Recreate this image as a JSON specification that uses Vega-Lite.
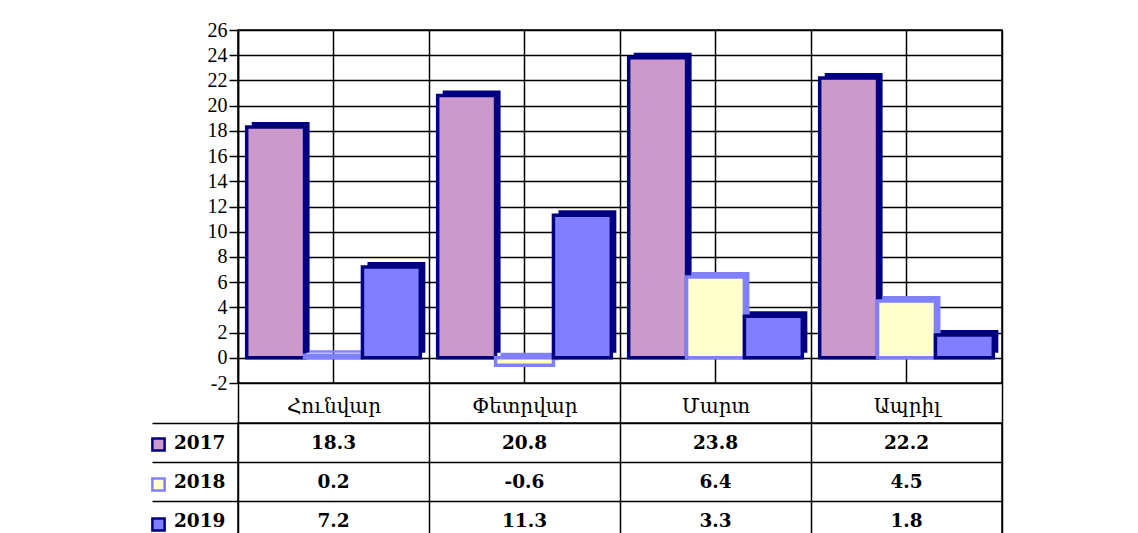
{
  "$schema": "https://vega.github.io/schema/vega-lite/v6.json",
  "background": "white",
  "padding": {"left": 150, "top": 19, "right": 10, "bottom": 0},
  "spacing": 40,
  "bounds": "flush",
  "data": {
    "values": [
      {"month": "Հունվար", "year": "2017", "value": 18.3},
      {"month": "Հունվար", "year": "2018", "value": 0.2},
      {"month": "Հունվար", "year": "2019", "value": 7.2},
      {"month": "Փետրվար", "year": "2017", "value": 20.8},
      {"month": "Փետրվար", "year": "2018", "value": -0.6},
      {"month": "Փետրվար", "year": "2019", "value": 11.3},
      {"month": "Մարտ", "year": "2017", "value": 23.8},
      {"month": "Մարտ", "year": "2018", "value": 6.4},
      {"month": "Մարտ", "year": "2019", "value": 3.3},
      {"month": "Ապրիլ", "year": "2017", "value": 22.2},
      {"month": "Ապրիլ", "year": "2018", "value": 4.5},
      {"month": "Ապրիլ", "year": "2019", "value": 1.8}
    ]
  },
  "resolve": {"scale": {"y": "independent"}},
  "vconcat": [
    {
      "width": 764,
      "height": 353,
      "resolve": {"scale": {"xOffset": "independent"}},
      "layer": [
        {
          "transform": [{"filter": "datum.year == '2017'"}],
          "mark": {"type": "rule", "color": "black", "strokeWidth": 1.5},
          "encoding": {
            "x": {"field": "month", "type": "nominal", "bandPosition": 0.5,
              "sort": ["Հունվար", "Փետրվար", "Մարտ", "Ապրիլ"],
              "scale": {"paddingInner": 0, "paddingOuter": 0},
              "axis": {"title": null, "labels": true, "labelAngle": 0, "labelBaseline": "middle", "labelPadding": -17, "labelFont": "DejaVu Serif", "labelFontSize": 20, "labelColor": "black",
                "ticks": true, "tickBand": "extent", "tickSize": 40, "tickColor": "black", "tickWidth": 1.5,
                "domain": false, "grid": true, "gridColor": "black", "gridWidth": 1.5, "gridOpacity": 1}}
          }
        },
        {
          "mark": {"type": "bar", "yOffset": -5, "strokeWidth": 0},
          "encoding": {
            "x": {"field": "month", "type": "nominal", "sort": ["Հունվար", "Փետրվար", "Մարտ", "Ապրիլ"]},
            "xOffset": {"field": "year", "type": "nominal", "scale": {"paddingInner": 0, "paddingOuter": 0.15, "align": 0.79}},
            "y": {"field": "value", "type": "quantitative",
              "scale": {"domain": [-2, 26], "nice": false},
              "axis": {"title": null, "values": [-2, 0, 2, 4, 6, 8, 10, 12, 14, 16, 18, 20, 22, 24, 26], "tickCount": 30, "labelOverlap": false, "labelExpr": "toString(datum.value)", "grid": true, "gridColor": "black", "gridWidth": 1.5, "gridOpacity": 1, "tickColor": "black", "tickSize": 9, "tickWidth": 1.5, "labelPadding": 2, "labelFont": "Liberation Serif", "labelFontSize": 20, "labelColor": "black", "domainColor": "black", "domainWidth": 1.5}},
            "fill": {"condition": {"test": "datum.year == '2018'", "value": "#8080ff"}, "value": "#000080"}
          }
        },
        {
          "mark": {"type": "bar", "strokeWidth": 3.5, "strokeJoin": "miter"},
          "encoding": {
            "x": {"field": "month", "type": "nominal", "sort": ["Հունվար", "Փետրվար", "Մարտ", "Ապրիլ"]},
            "xOffset": {"field": "year", "type": "nominal", "scale": {"paddingInner": 0, "paddingOuter": 0.15, "align": 0.5}},
            "y": {"field": "value", "type": "quantitative"},
            "color": {"field": "year", "type": "nominal",
              "scale": {"domain": ["2017", "2018", "2019"], "range": ["#cc99cc", "#ffffcc", "#8080ff"]},
              "legend": {"orient": "none", "legendX": -87, "legendY": 407, "title": null, "labelExpr": "''", "symbolType": "square", "symbolSize": 150, "symbolStrokeWidth": 2.5, "symbolOpacity": 1, "rowPadding": 17, "padding": 0}},
            "stroke": {"field": "year", "type": "nominal",
              "scale": {"domain": ["2017", "2018", "2019"], "range": ["#000080", "#8080ff", "#000080"]},
              "legend": {"orient": "none", "legendX": -87, "legendY": 407, "title": null, "labelExpr": "''", "symbolType": "square", "symbolSize": 150, "symbolStrokeWidth": 2.5, "symbolOpacity": 1, "rowPadding": 17, "padding": 0}}
          }
        }
      ]
    },
    {
      "width": 764,
      "height": 117,
      "layer": [
        {
          "mark": {"type": "text", "font": "DejaVu Serif", "fontSize": 18.5, "fontWeight": "bold", "color": "black"},
          "encoding": {
            "x": {"field": "month", "type": "nominal", "sort": ["Հունվար", "Փետրվար", "Մարտ", "Ապրիլ"],
              "axis": {"title": null, "labels": false, "ticks": false, "domain": false, "grid": true, "tickBand": "extent", "gridColor": "black", "gridWidth": 1.5, "gridOpacity": 1}},
            "y": {"field": "year", "type": "nominal",
              "scale": {"domain": ["2017", "2018", "2019"]},
              "axis": {"title": null, "domain": false, "tickBand": "extent", "grid": true, "gridColor": "black", "gridWidth": 1.5, "gridOpacity": 1, "tickSize": 86, "tickWidth": 1.5, "tickColor": "black",
                "labelPadding": -73, "labelFont": "DejaVu Serif", "labelFontWeight": "bold", "labelFontSize": 18.5, "labelColor": "black"}},
            "text": {"field": "value", "type": "nominal"}
          }
        }
      ]
    }
  ],
  "config": {
    "view": {"stroke": "black", "strokeWidth": 1.5}
  }
}
